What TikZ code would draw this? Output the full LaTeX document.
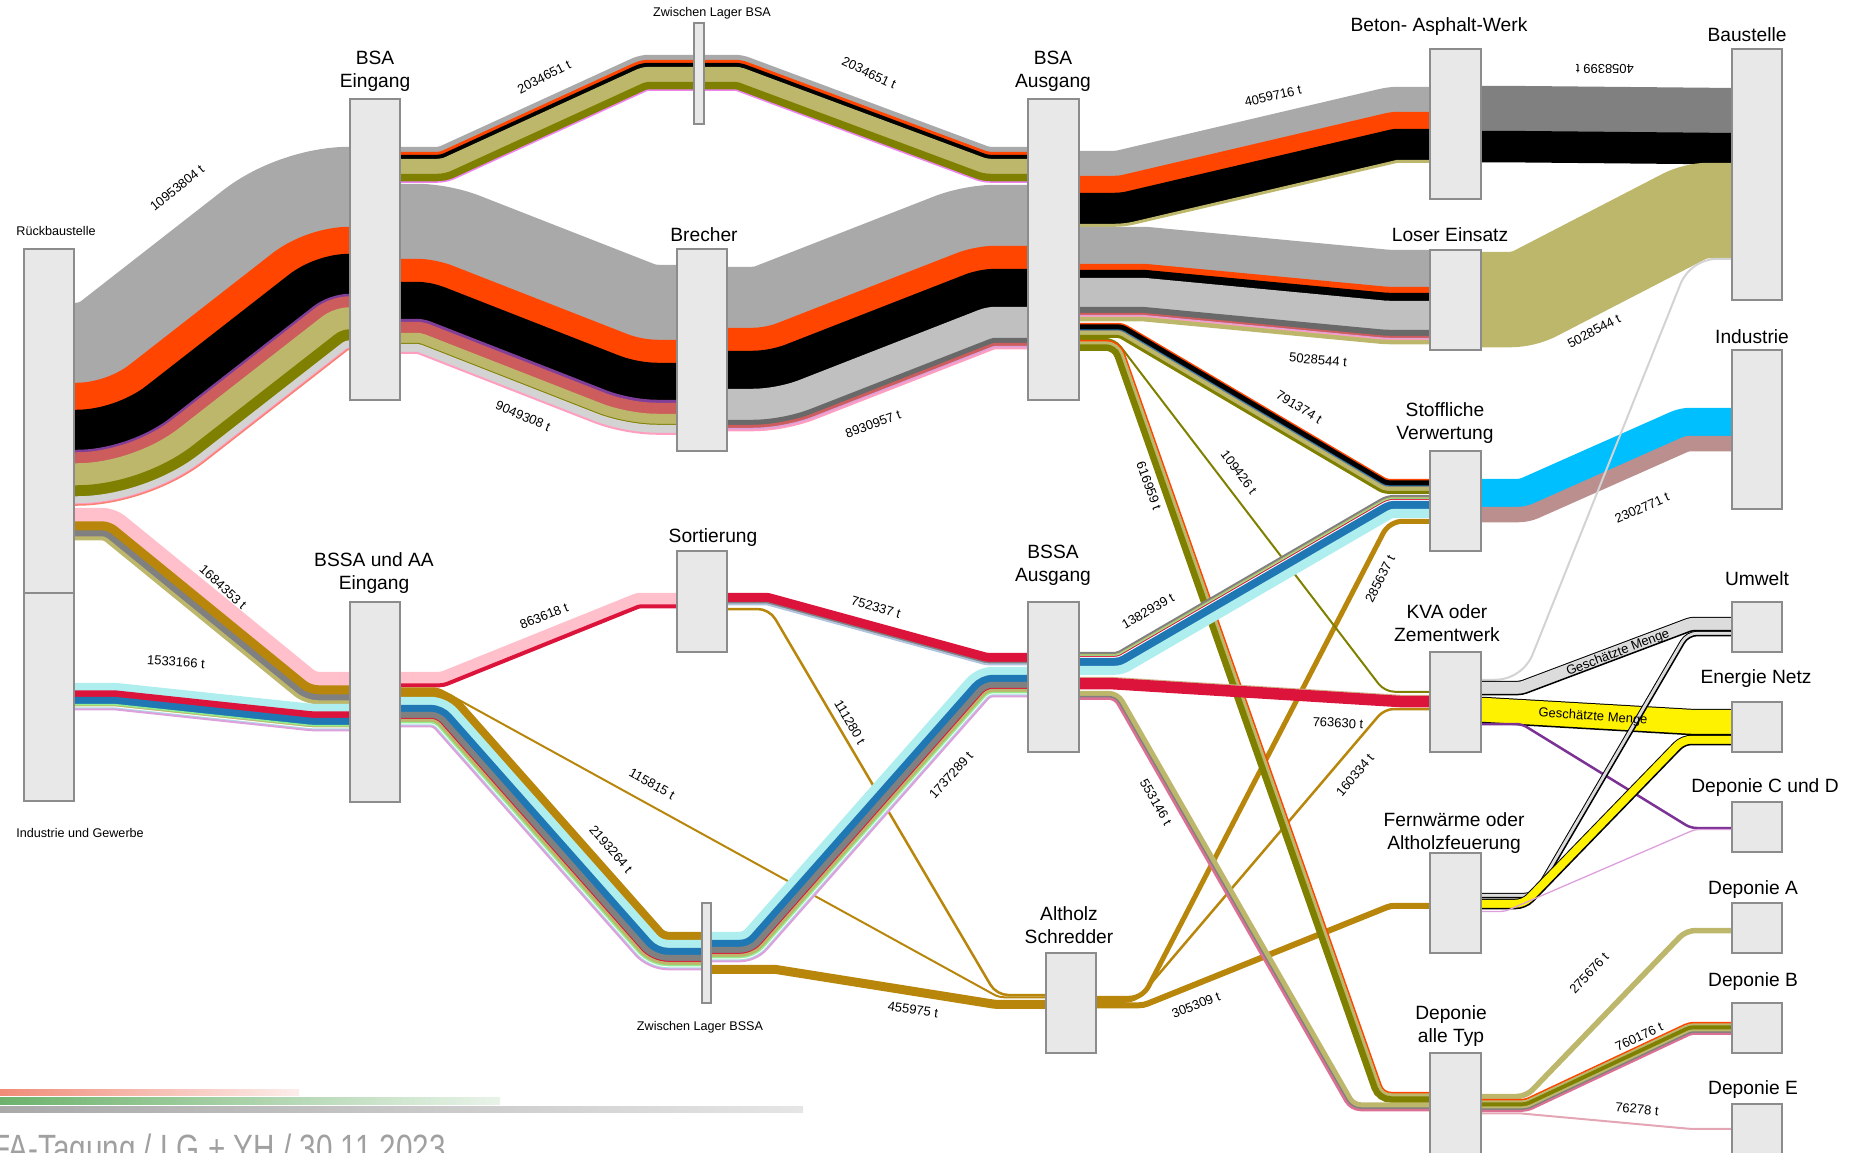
\documentclass[tikz,border=0pt]{standalone}
\usepackage{fontspec}
\setmainfont{Liberation Sans}
\newfontfamily\footfont[FakeStretch=0.78]{Liberation Sans}
\pgfdeclarelayer{flows}
\pgfsetlayers{flows,main}

% material colours
\definecolor{cgray}{HTML}{A9A9A9}
\definecolor{cgray2}{HTML}{808080}
\definecolor{corange}{HTML}{FF4500}
\definecolor{cpurple}{HTML}{7F3F98}
\definecolor{cpurple2}{HTML}{7B3294}
\definecolor{cindianred}{HTML}{CD5C5C}
\definecolor{ckhaki}{HTML}{BDB76B}
\definecolor{colive}{HTML}{808000}
\definecolor{clightgray}{HTML}{D3D3D3}
\definecolor{cpink}{HTML}{FF9EC0}
\definecolor{csalmon}{HTML}{FA8072}
\definecolor{cpinkband}{HTML}{FFC0CB}
\definecolor{cgold}{HTML}{B8860B}
\definecolor{cpaleturq}{HTML}{AFEEEE}
\definecolor{ccrimson}{HTML}{DC143C}
\definecolor{csteel}{HTML}{1F78B4}
\definecolor{cdeepsky}{HTML}{00BFFF}
\definecolor{crosy}{HTML}{BC8F8F}
\definecolor{csilver}{HTML}{C0C0C0}
\definecolor{cdimgray}{HTML}{696969}
\definecolor{cplum}{HTML}{DDA0DD}
\definecolor{cviolet}{HTML}{EE82EE}
\definecolor{clightgreen}{HTML}{90EE90}
\definecolor{clightblue}{HTML}{ADD8E6}
\definecolor{clightsteel}{HTML}{B0C4DE}
\definecolor{cgains}{HTML}{DCDCDC}
\definecolor{cpink2}{HTML}{DB7093}
\definecolor{cpinkE}{HTML}{E4A6B4}
\definecolor{ctan}{HTML}{D2B48C}
\definecolor{boxfill}{HTML}{E8E8E8}
\definecolor{boxline}{HTML}{8C8C8C}
\definecolor{cfoot}{HTML}{A0A0A0}
\definecolor{cbarred}{HTML}{F08C78}
\definecolor{cbargreen}{HTML}{6CB26C}

\tikzset{
  box/.style 2 args={rectangle, draw=boxline, fill=boxfill, line width=0.6pt,
    minimum width=#1*0.5pt, minimum height=#2*0.5pt, inner sep=0pt, outer sep=0pt},
  nlabel/.style={font=\fontsize{9.6}{11.5}\selectfont, align=center, inner sep=0pt},
  slabel/.style={font=\fontsize{6.3}{7.5}\selectfont, inner sep=0pt},
  flabel/.style={font=\fontsize{6.5}{7.5}\selectfont, inner sep=0pt},
}

% \flowband[rho]{source}{y top at source}{x bend 1}{x bend 2}{target}{y top at target}{width/colour,...}
% A stack of parallel strokes: horizontal, straight run, horizontal,
% with concentric rounded bends (rho = radius of the inner edge).
\newcommand\flowband[8][6]{%
  \path (#2.east); \pgfgetlastxy\fbtx\fbty
  \pgfmathsetmacro\fbxs{\fbtx/0.5}%
  \path (#6.west); \pgfgetlastxy\fbtx\fbty
  \pgfmathsetmacro\fbxe{\fbtx/0.5}%
  \pgfmathsetmacro\fbdx{#5-#4}%
  \pgfmathsetmacro\fbdy{#7-#3}%
  \pgfmathsetmacro\fbL{veclen(\fbdx,\fbdy)}%
  \pgfmathsetmacro\fbc{\fbdx/\fbL}%
  \pgfmathsetmacro\fbs{\fbdy/\fbL}%
  \pgfmathsetmacro\fbt{(1-\fbc)/max(abs(\fbs),0.00001)}%
  \pgfmathsetmacro\fbk{abs(\fbs)<0.00001 ? 0 : (\fbc-1)/(\fbs)}%
  \gdef\fbW{0}%
  \foreach \w/\col in {#8}{\pgfmathsetmacro\fbtmp{\fbW+\w}\xdef\fbW{\fbtmp}}%
  \gdef\fbd{0}%
  \foreach \w/\col in {#8}{%
    \pgfmathsetmacro\dc{\fbd+\w/2}%
    \pgfmathsetmacro\dl{\dc*(\fbk)}%
    \pgfmathsetmacro\pax{#4+\dl}\pgfmathsetmacro\pay{#3+\dc}%
    \pgfmathsetmacro\pbx{#5+\dl}\pgfmathsetmacro\pby{#7+\dc}%
    \pgfmathsetmacro\eone{\fbs>0 ? \fbW-\dc : \dc}%
    \pgfmathsetmacro\etwo{\fbs>0 ? \dc : \fbW-\dc}%
    \pgfmathsetmacro\cone{max(0,min((#1+\eone)*\fbt,\pax-\fbxs-0.2,0.49*\fbL))}%
    \pgfmathsetmacro\ctwo{max(0,min((#1+\etwo)*\fbt,\fbxe-\pbx-0.2,0.49*\fbL))}%
    \pgfmathsetmacro\aax{\pax-\cone}%
    \pgfmathsetmacro\cax{\pax-0.4*\cone}%
    \pgfmathsetmacro\cbx{\pax+0.4*\cone*(\fbc)}\pgfmathsetmacro\cby{\pay+0.4*\cone*(\fbs)}%
    \pgfmathsetmacro\bbx{\pax+\cone*(\fbc)}\pgfmathsetmacro\bby{\pay+\cone*(\fbs)}%
    \pgfmathsetmacro\ddx{\pbx-\ctwo*(\fbc)}\pgfmathsetmacro\ddy{\pby-\ctwo*(\fbs)}%
    \pgfmathsetmacro\cdx{\pbx-0.4*\ctwo*(\fbc)}\pgfmathsetmacro\cdy{\pby-0.4*\ctwo*(\fbs)}%
    \pgfmathsetmacro\cex{\pbx+0.4*\ctwo}%
    \pgfmathsetmacro\eex{\pbx+\ctwo}%
    \pgfmathsetmacro\lw{(\w+0.5)*0.5}%
    \draw[line width=\lw pt, \col]
      (\fbxs,\pay) -- (\aax,\pay)
      .. controls (\cax,\pay) and (\cbx,\cby) .. (\bbx,\bby)
      -- (\ddx,\ddy)
      .. controls (\cdx,\cdy) and (\cex,\pby) .. (\eex,\pby) -- (\fbxe,\pby);
    \pgfmathsetmacro\fbtmp{\fbd+\w}\xdef\fbd{\fbtmp}%
  }%
}

\begin{document}
\begin{tikzpicture}[x=0.5pt, y=-0.5pt]
\useasboundingbox (0,0) rectangle (1852,1152);

% ---------- processes ----------
\node[box={50}{344}] (rueck)   at (49,421) {};
\node[box={50}{208}] (indu)    at (49,697) {};
\node[box={50}{301}] (bsaE)    at (375,249.5) {};
\node[box={10}{101}] (zlBSA)   at (699,73.5) {};
\node[box={50}{202}] (brech)   at (702,350) {};
\node[box={51}{301}] (bsaA)    at (1053.5,249.5) {};
\node[box={51}{150}] (beton)   at (1455.5,124) {};
\node[box={50}{251}] (baust)   at (1757,174.5) {};
\node[box={51}{100}] (loser)   at (1455.5,300) {};
\node[box={50}{159}] (indus)   at (1757,429.5) {};
\node[box={51}{100}] (stoff)   at (1455.5,501) {};
\node[box={50}{50}]  (umwelt)  at (1757,627) {};
\node[box={51}{100}] (kva)     at (1455.5,702) {};
\node[box={50}{50}]  (enetz)   at (1757,727) {};
\node[box={50}{50}]  (depCD)   at (1757,827) {};
\node[box={51}{100}] (fern)    at (1455.5,903) {};
\node[box={50}{50}]  (depA)    at (1757,928) {};
\node[box={50}{50}]  (depB)    at (1757,1028) {};
\node[box={50}{76}]  (depE)    at (1757,1142) {};
\node[box={51}{127}] (depAll)  at (1455.5,1116.5) {};
\node[box={50}{100}] (altholz) at (1071,1003) {};
\node[box={50}{200}] (bssaE)   at (375,702) {};
\node[box={50}{101}] (sort)    at (702,601.5) {};
\node[box={51}{150}] (bssaA)   at (1053.5,677) {};
\node[box={9}{100}]  (zlBSSA)  at (706.5,953) {};

% ---------- flows ----------
\begin{pgfonlayer}{flows}
\flowband{rueck}{303}{79}{279}{bsaE}{147}{80/cgray,27/corange,40/black,2.5/cpurple,11/cindianred,22/ckhaki,11/colive,7/clightgray,1/cpink,1/csalmon}
\flowband{rueck}{508}{115}{316}{bssaE}{672}{13.5/cpinkband,9/cgold,6/cgray2,3.5/ckhaki}
\flowband{indu}{683}{115}{312}{bssaE}{704}{7.5/cpaleturq,6.5/ccrimson,7/csteel,1.5/clightgreen,1/ckhaki,1/white,1/clightblue,1.5/cplum}
\flowband{bsaE}{147}{439}{640}{zlBSA}{55}{5/cgray,3/corange,4/black,15/ckhaki,7.5/colive,1/cviolet}
\flowband{zlBSA}{55}{742}{989}{bsaA}{147}{5/cgray,3/corange,4/black,15/ckhaki,7.5/colive,1/cviolet}
\flowband{bsaE}{184}{449}{656}{brech}{265}{75/cgray,23/corange,37/black,3/cpurple,11/cindianred,10/ckhaki,1/colive,8/clightgray,1.5/cpink}
\flowband{brech}{267}{754}{964}{bsaA}{185}{61/cgray,23/corange,38/black,31/csilver,5/cdimgray,3/cindianred,1.5/cplum,1.5/cpink}
\flowband{bsaA}{151}{1116}{1389}{beton}{87}{25/cgray,17/corange,31/black,2.5/ckhaki}
\flowband{beton}{86}{1500}{1710}{baust}{88}{45/cgray2,31/black}
\flowband{bsaA}{227}{1146}{1389}{loser}{250}{37/cgray,6/corange,8/black,29/csilver,6/cdimgray,2/cindianred,1/cplum,1/cpink,4/ckhaki}
\flowband{loser}{252}{1512}{1684}{baust}{163}{95/ckhaki}
\flowband{bssaE}{672}{441}{637}{sort}{593}{11.5/cpinkband,3.5/ccrimson}
\flowband[20]{bssaE}{687.5}{438}{999}{altholz}{996.5}{1.5/cgold}
\flowband{bssaE}{689}{450}{665}{zlBSSA}{932}{8/cgold,8/cpaleturq,7/csteel,6/cgray2,1/ccrimson,3/ckhaki,1.5/clightgreen,1/white,1/clightblue,1.5/cplum}
\flowband[20]{sort}{608}{770}{997}{altholz}{994}{2/cgold}
\flowband{sort}{593}{768}{987}{bssaA}{653}{9/ccrimson,1.5/cgray2,1.5/clightsteel}
\flowband{zlBSSA}{932}{743}{977}{bssaA}{667}{8/cpaleturq,7/csteel,6/cgray2,1/ccrimson,3/ckhaki,1.5/clightgreen,1/white,1/clightblue,1.5/cplum}
\flowband[8]{zlBSSA}{965}{775}{995}{altholz}{1000}{8.5/cgold}
% wood streams leaving the shredder
\flowband[20]{altholz}{996}{1141}{1388}{stoff}{519}{4.5/cgold}
\flowband[20]{altholz}{1000.5}{1135}{1384}{kva}{708}{2/cgold}
\flowband[20]{altholz}{1002.5}{1143}{1390}{fern}{903}{5.5/cgold}
% streams to KVA and landfill, below the recycling streams
\flowband[20]{bsaA}{338}{1115}{1385}{kva}{691}{1.5/colive}
\flowband[10]{bsaA}{340}{1120}{1384}{depAll}{1092}{1.5/corange,3/ckhaki,6/colive}
\flowband[10]{bssaA}{691}{1119}{1355}{depAll}{1102.5}{5/ckhaki,1.5/cgray2,2/cpink2}
\flowband{bsaA}{323}{1123}{1387}{stoff}{479}{1.5/corange,5/black,0.8/csteel,0.8/cgray2,4/ckhaki,2.5/colive}
\flowband{bssaA}{652}{1117}{1387}{stoff}{495}{2/cgray2,1/ckhaki,1/clightgreen,1/ccrimson,1/white,8/csteel,8.5/cpaleturq}
\flowband{bssaA}{677}{1110}{1400}{kva}{695}{1/ctan,11/ccrimson}
\flowband{stoff}{479}{1520}{1680}{indus}{408}{28/cdeepsky,15/crosy}
\flowband[40]{kva}{679}{1522}{1690}{baust}{258}{1.5/clightgray}
\flowband[10]{kva}{681}{1520}{1690}{umwelt}{617}{1/black,12/cgains,1/black}
\flowband[10]{kva}{697}{1483}{1691}{enetz}{709}{1/black,24/yellow,1/black}
\flowband[20]{kva}{723}{1522}{1691}{depCD}{827}{2/cpurple2}
\flowband[15]{fern}{893}{1533}{1686}{umwelt}{631}{1/black,3/cgains,1/black}
\flowband[15]{fern}{899}{1522}{1681}{enetz}{735}{1/black,8/yellow,1/black}
\flowband[20]{fern}{911}{1505}{1695}{depCD}{829}{0.8/cplum}
\flowband[20]{depAll}{1094}{1525}{1685}{depA}{928}{5/ckhaki}
\flowband[10]{depAll}{1099}{1525}{1689}{depB}{1022}{1.5/corange,2/ckhaki,4/colive,2/ckhaki,1.5/cgray2,1.5/cpink2}
\flowband[20]{depAll}{1112.5}{1519}{1689}{depE}{1128}{1.5/cpinkE}
\end{pgfonlayer}

% ---------- process names ----------
\node[slabel] (tRueck) at (56,231) {Rückbaustelle};
\node[slabel] (tIndu) at (80,833) {Industrie und Gewerbe};
\node[nlabel] (tBsaE) at (375,71.5) {BSA\\Eingang};
\node[slabel] (tZlBSA) at (712,13) {Zwischen Lager BSA};
\node[nlabel] (tBsaA) at (1053,71.5) {BSA\\Ausgang};
\node[nlabel] (tBrech) at (704,235) {Brecher};
\node[nlabel] (tBeton) at (1439,27) {Beton- Asphalt-Werk};
\node[nlabel] (tBaust) at (1747,35) {Baustelle};
\node[nlabel] (tLoser) at (1450,235) {Loser Einsatz};
\node[nlabel] (tIndus) at (1752,337) {Industrie};
\node[nlabel] (tStoff) at (1445,423) {Stoffliche\\Verwertung};
\node[nlabel] (tUmwelt) at (1757,579) {Umwelt};
\node[nlabel] (tKva) at (1447,623.5) {KVA oder\\Zementwerk};
\node[nlabel] (tEnetz) at (1756,679) {Energie Netz};
\node[nlabel] (tDepCD) at (1765,788) {Deponie C und D};
\node[nlabel] (tFern) at (1454,833) {Fernwärme oder\\Altholzfeuerung};
\node[nlabel] (tDepA) at (1753,890) {Deponie A};
\node[nlabel] (tDepB) at (1753,982) {Deponie B};
\node[nlabel] (tDepE) at (1753,1090) {Deponie E};
\node[nlabel] (tDepAll) at (1451,1026) {Deponie\\alle Typ};
\node[nlabel] (tAltholz) at (1069,925) {Altholz\\Schredder};
\node[nlabel] (tBssaE) at (374,573) {BSSA und AA\\Eingang};
\node[nlabel] (tSort) at (713,538) {Sortierung};
\node[nlabel] (tBssaA) at (1053,565.5) {BSSA\\Ausgang};
\node[slabel] (tZlBSSA) at (700,1027) {Zwischen Lager BSSA};

% ---------- quantities ----------
\node[flabel, rotate=39]  (q01) at (177,188) {10953804 t};
\node[flabel, rotate=27]  (q02) at (544,77) {2034651 t};
\node[flabel, rotate=-25] (q03) at (869,73) {2034651 t};
\node[flabel, rotate=-23] (q04) at (523,416) {9049308 t};
\node[flabel, rotate=20]  (q05) at (873,424) {8930957 t};
\node[flabel, rotate=13]  (q06) at (1273,96) {4059716 t};
\node[flabel, rotate=180] (q07) at (1605,69) {4058399 t};
\node[flabel, rotate=-5]  (q08) at (1318,360) {5028544 t};
\node[flabel, rotate=28]  (q09) at (1594,331) {5028544 t};
\node[flabel, rotate=-31] (q10) at (1299,407) {791374 t};
\node[flabel, rotate=-53] (q11) at (1239,472) {109426 t};
\node[flabel, rotate=-70] (q12) at (1149,486) {616959 t};
\node[flabel, rotate=30]  (q13) at (1148,611) {1382939 t};
\node[flabel, rotate=-3]  (q14) at (1338,723) {763630 t};
\node[flabel, rotate=24]  (q15) at (1642,508) {2302771 t};
\node[flabel, rotate=63]  (q16) at (1380,579) {285637 t};
\node[flabel, rotate=50]  (q17) at (1355,775) {160334 t};
\node[flabel, rotate=22]  (q18) at (1196,1005) {305309 t};
\node[flabel, rotate=-60] (q19) at (1156,802) {553146 t};
\node[flabel, rotate=-16] (q20) at (876,607) {752337 t};
\node[flabel, rotate=-60] (q21) at (850,722) {111280 t};
\node[flabel, rotate=-29] (q22) at (652,784) {115815 t};
\node[flabel, rotate=-49] (q23) at (611,849) {2193264 t};
\node[flabel, rotate=48]  (q24) at (951,775) {1737289 t};
\node[flabel, rotate=-8]  (q25) at (913,1010) {455975 t};
\node[flabel, rotate=-42] (q26) at (223,587) {1684353 t};
\node[flabel, rotate=-4]  (q27) at (176,662) {1533166 t};
\node[flabel, rotate=22]  (q28) at (544,616) {863618 t};
\node[flabel, rotate=47]  (q29) at (1589,973) {275676 t};
\node[flabel, rotate=25]  (q30) at (1639,1037) {760176 t};
\node[flabel, rotate=-5]  (q31) at (1637,1109) {76278 t};
\node[flabel, rotate=21]  (q32) at (1618,653) {Geschätzte Menge};
\node[flabel, rotate=-4]  (q33) at (1593,717) {Geschätzte Menge};

% ---------- footer ----------
\shade[left color=cbarred, right color=cbarred!15] (0,1089) rectangle (299,1095);
\shade[left color=cbargreen, right color=cbargreen!15] (0,1097) rectangle (500,1104);
\shade[left color=cgray, right color=cgray!30] (0,1106) rectangle (803,1112);
\node[anchor=base west, inner sep=0pt, text=cfoot, font=\footfont\fontsize{19}{20}\selectfont] (foot) at (-8,1161) {FA-Tagung / LG + YH / 30.11.2023};
\end{tikzpicture}
\end{document}
